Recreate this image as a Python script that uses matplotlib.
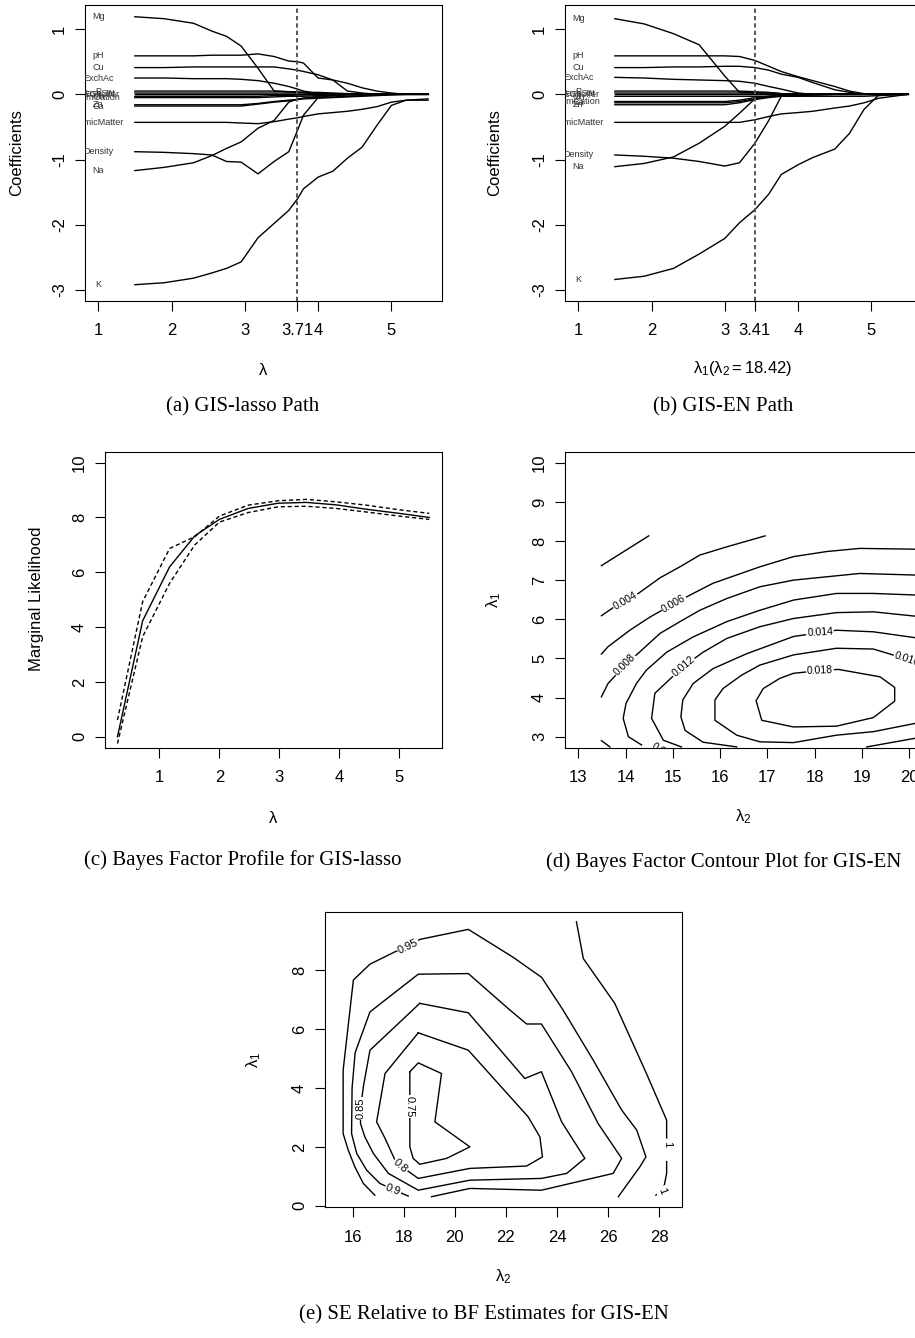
import numpy as np
import matplotlib.pyplot as plt

plt.rcParams['font.family'] = 'Liberation Sans'
plt.rcParams['mathtext.fontset'] = 'custom'
plt.rcParams['mathtext.rm'] = 'Liberation Sans'
plt.rcParams['mathtext.it'] = 'Liberation Sans'

W, H = 915, 1338

# ---- (a) GIS-lasso path ----
lam_a = [1.5, 1.9, 2.3, 2.55, 2.75, 2.95, 3.18, 3.4, 3.6, 3.72, 3.8, 4.0, 4.2, 4.4, 4.6, 4.8, 5.0, 5.2, 5.5]
mg_a = [1.19, 1.16, 1.09, 0.97, 0.89, 0.74, 0.40, 0.05, 0.04, 0.04, 0.03, 0.03, 0.02, 0.01, 0.01, 0.0, 0.0, 0.0, 0.0]
ph_a = [0.59, 0.59, 0.59, 0.60, 0.60, 0.60, 0.62, 0.58, 0.51, 0.50, 0.48, 0.25, 0.22, 0.05, 0.02, 0.0, 0.0, 0.0, 0.0]
cu_a = [0.41, 0.41, 0.42, 0.42, 0.42, 0.42, 0.42, 0.42, 0.39, 0.37, 0.35, 0.30, 0.22, 0.17, 0.10, 0.05, 0.02, 0.0, 0.0]
exch_a = [0.25, 0.25, 0.24, 0.24, 0.24, 0.23, 0.21, 0.17, 0.12, 0.08, 0.05, 0.01, 0.0, 0.0, 0.0, 0.0, 0.0, 0.0, 0.0]
p_a = [0.05, 0.05, 0.05, 0.05, 0.05, 0.05, 0.05, 0.05, 0.04, 0.03, 0.03, 0.02, 0.01, 0.01, 0.0, 0.0, 0.0, 0.0, 0.0]
base_a = [0.02, 0.02, 0.02, 0.02, 0.02, 0.02, 0.02, 0.02, 0.02, 0.02, 0.02, 0.01, 0.01, 0.01, 0.01, 0.01, 0.0, 0.0, 0.0]
cec_a = [0.0, 0.0, 0.0, 0.0, 0.0, 0.0, 0.0, 0.0, 0.0, 0.0, 0.0, 0.0, 0.0, 0.0, 0.0, 0.0, 0.0, 0.0, 0.0]
mn_a = [-0.03, -0.03, -0.03, -0.03, -0.03, -0.03, -0.03, -0.02, -0.02, -0.01, -0.01, 0.0, 0.0, 0.0, 0.0, 0.0, 0.0, 0.0, 0.0]
sum_a = [-0.05, -0.05, -0.05, -0.05, -0.05, -0.05, -0.05, -0.04, -0.03, -0.03, -0.03, -0.02, -0.02, -0.01, -0.01, -0.01, 0.0, 0.0, 0.0]
zn_a = [-0.16, -0.16, -0.16, -0.16, -0.16, -0.16, -0.14, -0.11, -0.09, -0.08, -0.06, -0.03, -0.01, 0.0, 0.0, 0.0, 0.0, 0.0, 0.0]
ca_a = [-0.18, -0.18, -0.18, -0.18, -0.18, -0.18, -0.15, -0.12, -0.10, -0.08, -0.07, -0.06, -0.05, -0.04, -0.03, -0.02, -0.01, 0.0, 0.0]
humic_a = [-0.43, -0.43, -0.43, -0.43, -0.43, -0.44, -0.45, -0.42, -0.38, -0.36, -0.34, -0.30, -0.28, -0.26, -0.23, -0.19, -0.12, -0.09, -0.07]
dens_a = [-0.88, -0.89, -0.91, -0.93, -1.03, -1.04, -1.22, -1.03, -0.88, -0.55, -0.32, -0.05, -0.02, 0.0, 0.0, 0.0, 0.0, 0.0, 0.0]
na_a = [-1.17, -1.12, -1.05, -0.94, -0.83, -0.73, -0.52, -0.40, -0.12, -0.07, -0.06, -0.05, -0.04, -0.03, -0.02, -0.01, 0.0, 0.0, 0.0]
k_a = [-2.92, -2.89, -2.82, -2.74, -2.67, -2.57, -2.20, -1.98, -1.78, -1.60, -1.45, -1.27, -1.18, -0.98, -0.81, -0.48, -0.17, -0.09, -0.09]

var_names = ['Mg', 'pH', 'Cu', 'ExchAc', 'P', 'BaseSat', 'CECbuffer', 'Mn',
             'SumCation', 'Zn', 'Ca', 'HumicMatter', 'Density', 'Na', 'K']

# ---- (b) GIS-EN path ----
lam_b = [1.5, 1.9, 2.3, 2.65, 3.0, 3.2, 3.41, 3.6, 3.77, 4.0, 4.2, 4.5, 4.7, 4.9, 5.1, 5.3, 5.5]
mg_b = [1.16, 1.08, 0.93, 0.76, 0.28, 0.03, 0.02, 0.02, 0.01, 0.01, 0.0, 0.0, 0.0, 0.0, 0.0, 0.0, 0.0]
ph_b = [0.59, 0.59, 0.59, 0.59, 0.59, 0.58, 0.52, 0.43, 0.35, 0.27, 0.21, 0.12, 0.05, 0.01, 0.0, 0.0, 0.0]
cu_b = [0.41, 0.41, 0.42, 0.42, 0.43, 0.43, 0.41, 0.37, 0.31, 0.26, 0.18, 0.07, 0.03, 0.0, 0.0, 0.0, 0.0]
exch_b = [0.26, 0.25, 0.23, 0.22, 0.21, 0.20, 0.17, 0.12, 0.08, 0.02, 0.0, 0.0, 0.0, 0.0, 0.0, 0.0, 0.0]
p_b = [0.05, 0.05, 0.05, 0.05, 0.05, 0.05, 0.04, 0.03, 0.01, 0.0, 0.0, 0.0, 0.0, 0.0, 0.0, 0.0, 0.0]
base_b = [0.02, 0.02, 0.02, 0.02, 0.02, 0.02, 0.02, 0.02, 0.01, 0.01, 0.0, 0.0, 0.0, 0.0, 0.0, 0.0, 0.0]
cec_b = [0.0, 0.0, 0.0, 0.0, 0.0, 0.0, 0.0, 0.0, 0.0, 0.0, 0.0, 0.0, 0.0, 0.0, 0.0, 0.0, 0.0]
mn_b = [-0.03, -0.03, -0.03, -0.03, -0.03, -0.03, -0.03, -0.03, -0.03, -0.03, -0.03, -0.03, -0.03, -0.03, -0.02, -0.01, 0.0]
sum_b = [-0.11, -0.11, -0.11, -0.11, -0.11, -0.09, -0.05, -0.03, -0.02, -0.01, 0.0, 0.0, 0.0, 0.0, 0.0, 0.0, 0.0]
ca_b = [-0.13, -0.13, -0.13, -0.13, -0.13, -0.11, -0.07, -0.04, -0.02, -0.01, 0.0, 0.0, 0.0, 0.0, 0.0, 0.0, 0.0]
zn_b = [-0.16, -0.16, -0.16, -0.16, -0.16, -0.13, -0.08, -0.05, -0.03, -0.02, -0.01, 0.0, 0.0, 0.0, 0.0, 0.0, 0.0]
humic_b = [-0.43, -0.43, -0.43, -0.43, -0.43, -0.43, -0.39, -0.34, -0.30, -0.28, -0.26, -0.21, -0.18, -0.13, -0.06, -0.03, 0.0]
dens_b = [-0.93, -0.95, -0.98, -1.03, -1.10, -1.05, -0.75, -0.40, -0.03, -0.02, -0.01, 0.0, 0.0, 0.0, 0.0, 0.0, 0.0]
na_b = [-1.11, -1.06, -0.96, -0.75, -0.49, -0.29, -0.07, -0.03, -0.02, -0.01, 0.0, 0.0, 0.0, 0.0, 0.0, 0.0, 0.0]
k_b = [-2.84, -2.79, -2.67, -2.45, -2.21, -1.97, -1.77, -1.53, -1.23, -1.08, -0.97, -0.84, -0.60, -0.23, -0.01, 0.0, 0.0]

# ---- (c) marginal likelihood profile ----
lam_c = [0.3, 0.72, 1.17, 1.59, 2.0, 2.48, 2.98, 3.45, 3.95, 4.45, 5.0, 5.5]
ml_mid = [0.0, 4.23, 6.2, 7.33, 7.93, 8.33, 8.52, 8.55, 8.46, 8.30, 8.15, 8.0]
ml_hi = [0.61, 4.93, 6.87, 7.3, 8.05, 8.45, 8.61, 8.66, 8.57, 8.45, 8.28, 8.15]
ml_lo = [-0.25, 3.65, 5.6, 7.0, 7.83, 8.18, 8.39, 8.41, 8.33, 8.2, 8.05, 7.93]

# ---- (d) Bayes factor contours: (lambda2, lambda1) ----
d002_x = [13.49, 14.49]
d002_y = [7.37, 8.13]
d004_x = [13.49, 13.74, 14.0, 14.27, 14.73, 15.15, 15.57, 16.14, 16.95]
d004_y = [6.09, 6.30, 6.46, 6.66, 7.06, 7.34, 7.64, 7.85, 8.13]
d006_x = [13.49, 13.63, 14.09, 14.52, 15.02, 15.43, 15.85, 16.84, 17.55, 18.25, 18.95, 20.12]
d006_y = [5.11, 5.30, 5.72, 6.06, 6.40, 6.66, 6.92, 7.34, 7.60, 7.73, 7.81, 7.79]
d008_x = [13.49, 13.63, 13.99, 14.34, 14.73, 15.15, 15.57, 16.14, 16.84, 17.55, 18.95, 20.12]
d008_y = [4.02, 4.36, 4.83, 5.21, 5.64, 5.94, 6.23, 6.53, 6.83, 7.0, 7.17, 7.13]
d008b_x = [13.49, 13.67]
d008b_y = [2.90, 2.74]
d010_x = [14.34, 14.06, 13.95, 14.01, 14.23, 14.44, 14.87, 15.43, 16.14, 16.84, 17.55, 18.46, 19.24, 20.12]
d010_y = [2.79, 3.0, 3.47, 3.85, 4.36, 4.70, 5.16, 5.55, 5.94, 6.23, 6.49, 6.66, 6.66, 6.62]
d012_x = [15.18, 14.8, 14.55, 14.62, 15.22, 15.64, 16.14, 16.84, 17.55, 18.46, 19.24, 20.12]
d012_y = [2.74, 2.91, 3.47, 4.11, 4.79, 5.16, 5.51, 5.81, 6.02, 6.17, 6.19, 6.08]
d014_x = [16.35, 15.64, 15.26, 15.17, 15.21, 15.43, 15.85, 16.56, 17.55, 18.11, 18.46, 19.24, 20.12]
d014_y = [2.74, 2.86, 3.16, 3.51, 3.94, 4.36, 4.74, 5.12, 5.56, 5.66, 5.72, 5.68, 5.53]
d014b_x = [19.1, 20.12]
d014b_y = [2.74, 2.96]
d016_x = [20.12, 19.24, 18.46, 17.55, 16.84, 16.35, 15.89, 15.89, 16.06, 16.45, 16.84, 17.55, 18.46, 19.24, 19.95, 20.12]
d016_y = [3.34, 3.13, 3.04, 2.85, 2.87, 3.04, 3.42, 3.94, 4.23, 4.57, 4.83, 5.09, 5.26, 5.24, 4.98, 4.91]
d018_x = [18.11, 18.5, 19.38, 19.69, 19.69, 19.24, 18.46, 17.55, 16.88, 16.76, 16.91, 17.26, 17.55, 18.11]
d018_y = [4.69, 4.72, 4.53, 4.26, 3.91, 3.49, 3.27, 3.25, 3.42, 3.92, 4.23, 4.49, 4.62, 4.69]

# ---- (e) SE relative to BF estimates ----
e075_x = [18.24, 18.57, 19.48, 19.22, 20.59, 19.68, 18.63, 18.37, 18.24, 18.24]
e075_y = [4.55, 4.85, 4.49, 2.85, 2.0, 1.61, 1.41, 1.61, 2.0, 4.55]
e080_x = [18.57, 20.53, 22.87, 23.33, 23.43, 22.81, 20.59, 18.57, 17.88, 17.66, 17.27, 16.94, 17.27, 18.57]
e080_y = [5.87, 5.28, 3.02, 2.34, 1.66, 1.35, 1.27, 0.93, 1.36, 1.55, 2.29, 2.85, 4.49, 5.87]
e085_x = [18.63, 20.53, 22.74, 23.39, 24.18, 25.09, 24.38, 23.39, 20.59, 18.57, 17.4, 16.81, 16.48, 16.31, 16.31, 16.42, 16.68, 18.63]
e085_y = [6.87, 6.55, 4.32, 4.55, 2.85, 1.61, 1.10, 0.93, 0.87, 0.53, 1.10, 1.78, 2.34, 2.79, 3.30, 4.04, 5.28, 6.87]
e090_x = [18.18, 17.59, 17.07, 16.55, 16.16, 15.96, 15.98, 16.1, 16.68, 18.57, 20.53, 22.16, 22.81, 23.39, 24.57, 25.61, 26.53, 26.2, 23.39, 20.59, 19.09]
e090_y = [0.33, 0.55, 0.76, 1.21, 1.78, 2.45, 4.0, 5.2, 6.58, 7.86, 7.88, 6.64, 6.17, 6.17, 4.55, 2.79, 1.61, 1.10, 0.53, 0.59, 0.31]
e095_x = [16.87, 16.42, 16.09, 15.83, 15.63, 15.63, 16.03, 16.68, 17.66, 18.18, 18.63, 20.53, 22.29, 23.4, 24.24, 25.42, 26.53, 27.12, 27.48, 27.24, 26.4]
e095_y = [0.36, 0.76, 1.32, 1.89, 2.45, 4.6, 7.66, 8.20, 8.62, 8.79, 9.04, 9.38, 8.43, 7.75, 6.64, 4.94, 3.25, 2.57, 1.66, 1.32, 0.31]
e100_x = [24.76, 25.03, 26.26, 27.5, 28.29, 28.29]
e100_y = [9.64, 8.39, 6.87, 4.49, 2.91, 2.30]
e100b_x = [28.29, 28.29, 28.2, 28.1, 27.87]
e100b_y = [1.5, 1.10, 0.70, 0.52, 0.36]


def px_box(l, t, r, b):
    return [l / W, 1 - b / H, (r - l) / W, (b - t) / H]


def put(x, y, s, **kw):
    fig.text(x / W, 1 - y / H, s, ha='center', va='center', **kw)


def frame(ax, xt, xl, yt, yl):
    for s in ax.spines.values():
        s.set_linewidth(0.8)
    ax.set_xticks(xt)
    ax.set_xticklabels(xl, fontsize=12)
    ax.set_yticks(yt)
    ax.set_yticklabels(yl, fontsize=12, rotation=90, va='center')
    ax.tick_params(axis='both', direction='out', length=7, width=0.8)
    ax.tick_params(axis='x', pad=9)
    ax.tick_params(axis='y', pad=6)


def clab(ax, x, y, s, rot, size):
    ax.text(x, y, s, rotation=rot, rotation_mode='anchor', ha='center', va='center',
            fontsize=size, clip_on=True, zorder=3,
            bbox=dict(boxstyle='square,pad=0.08', fc='white', ec='none'))


fig = plt.figure(figsize=(W / 100, H / 100), dpi=100)

# (a) and (b): coefficient paths
paths_a = [mg_a, ph_a, cu_a, exch_a, p_a, base_a, cec_a, mn_a, sum_a, zn_a, ca_a, humic_a, dens_a, na_a, k_a]
paths_b = [mg_b, ph_b, cu_b, exch_b, p_b, base_b, cec_b, mn_b, sum_b, ca_b, zn_b, humic_b, dens_b, na_b, k_b]
names_b = ['Mg', 'pH', 'Cu', 'ExchAc', 'P', 'BaseSat', 'CECbuffer', 'Mn',
           'SumCation', 'Ca', 'Zn', 'HumicMatter', 'Density', 'Na', 'K']

panels = [
    (px_box(85, 5, 442, 301), lam_a, paths_a, var_names, 3.714, ['1', '2', '3', '3.71', '4', '5']),
    (px_box(565, 5, 922, 301), lam_b, paths_b, names_b, 3.41, ['1', '2', '3', '3.41', '4', '5']),
]
for pos, lam, paths, names, vline, xlabs in panels:
    ax = fig.add_axes(pos)
    for vals, nm in zip(paths, names):
        ax.plot(lam, vals, color='black', lw=1.0)
        ax.text(1.0, vals[0], nm, fontsize=6.5, color='#333333', ha='center', va='center', clip_on=True)
    ax.axvline(vline, color='#555555', lw=1.4, ls=(0, (2.2, 1.6)))
    ax.set_xlim(0.82, 5.69)
    ax.set_ylim(-3.17, 1.37)
    frame(ax, [1, 2, 3, vline, 4, 5], xlabs, [-3, -2, -1, 0, 1], ['-3', '-2', '-1', '0', '1'])

put(16.7, 153, 'Coefficients', fontsize=12, rotation=90)
put(495, 153, 'Coefficients', fontsize=12, rotation=90)
put(263, 370, r'$\lambda$', fontsize=12)
put(743, 368, r'$\lambda_1(\lambda_2 = 18.42)$', fontsize=12)
put(243, 406.5, '(a) GIS-lasso Path', fontsize=15, family='Liberation Serif')
put(723, 406.5, '(b) GIS-EN Path', fontsize=15, family='Liberation Serif')

# (c) marginal likelihood
ax = fig.add_axes(px_box(105, 451.7, 441.7, 747.7))
ax.plot(lam_c, ml_mid, color='black', lw=1.0)
ax.plot(lam_c, ml_hi, color='black', lw=1.0, ls=(0, (3, 2)))
ax.plot(lam_c, ml_lo, color='black', lw=1.0, ls=(0, (3, 2)))
ax.set_xlim(0.092, 5.708)
ax.set_ylim(-0.4, 10.4)
frame(ax, [1, 2, 3, 4, 5], ['1', '2', '3', '4', '5'], [0, 2, 4, 6, 8, 10], ['0', '2', '4', '6', '8', '10'])
put(36.7, 599, 'Marginal Likelihood', fontsize=12, rotation=90)
put(273, 818, r'$\lambda$', fontsize=12)
put(243, 860, '(c) Bayes Factor Profile for GIS-lasso', fontsize=15, family='Liberation Serif')

# (d) Bayes factor contour
ax = fig.add_axes(px_box(565, 451.7, 922.6, 747.7))
d_lines = [(d002_x, d002_y), (d004_x, d004_y), (d006_x, d006_y), (d008_x, d008_y), (d008b_x, d008b_y),
           (d010_x, d010_y), (d012_x, d012_y), (d014_x, d014_y), (d014b_x, d014b_y),
           (d016_x, d016_y), (d018_x, d018_y)]
for xs, ys in d_lines:
    ax.plot(xs, ys, color='black', lw=1.0)
clab(ax, 14.0, 6.46, '0.004', 30, 7.5)
clab(ax, 15.02, 6.40, '0.006', 30, 7.5)
clab(ax, 13.99, 4.83, '0.008', 45, 7.5)
clab(ax, 14.8, 2.6, '0.010', -32, 7.5)
clab(ax, 15.22, 4.79, '0.012', 40, 7.5)
clab(ax, 18.11, 5.66, '0.014', 3, 7.5)
clab(ax, 19.95, 4.98, '0.016', -18, 7.5)
clab(ax, 18.11, 4.69, '0.018', 2, 7.5)
ax.set_xlim(12.72, 20.28)
ax.set_ylim(2.72, 10.28)
frame(ax, list(range(13, 21)), [str(v) for v in range(13, 21)],
      list(range(3, 11)), [str(v) for v in range(3, 11)])
put(493.3, 600, r'$\lambda_1$', fontsize=12, rotation=90)
put(743.3, 816.7, r'$\lambda_2$', fontsize=12)
put(723.3, 861.7, '(d) Bayes Factor Contour Plot for GIS-EN', fontsize=15, family='Liberation Serif')

# (e) SE relative to BF estimates
ax = fig.add_axes(px_box(325, 911.7, 681.7, 1207.3))
e_lines = [(e075_x, e075_y), (e080_x, e080_y), (e085_x, e085_y), (e090_x, e090_y),
           (e095_x, e095_y), (e100_x, e100_y), (e100b_x, e100b_y)]
for xs, ys in e_lines:
    ax.plot(xs, ys, color='black', lw=1.0)
clab(ax, 18.24, 3.36, '0.75', -90, 8)
clab(ax, 17.88, 1.36, '0.8', -42, 8)
clab(ax, 16.31, 3.30, '0.85', 90, 8)
clab(ax, 17.59, 0.55, '0.9', -20, 8)
clab(ax, 18.18, 8.79, '0.95', 26, 8)
clab(ax, 28.29, 2.08, '1', -90, 8)
clab(ax, 28.1, 0.52, '1', -70, 8)
ax.set_xlim(14.92, 28.88)
ax.set_ylim(-0.05, 9.98)
frame(ax, [16, 18, 20, 22, 24, 26, 28], ['16', '18', '20', '22', '24', '26', '28'],
      [0, 2, 4, 6, 8], ['0', '2', '4', '6', '8'])
put(253.3, 1060, r'$\lambda_1$', fontsize=12, rotation=90)
put(503.3, 1276.7, r'$\lambda_2$', fontsize=12)
put(484, 1315, '(e) SE Relative to BF Estimates for GIS-EN', fontsize=15, family='Liberation Serif')

fig.savefig('out.png', dpi=100)
